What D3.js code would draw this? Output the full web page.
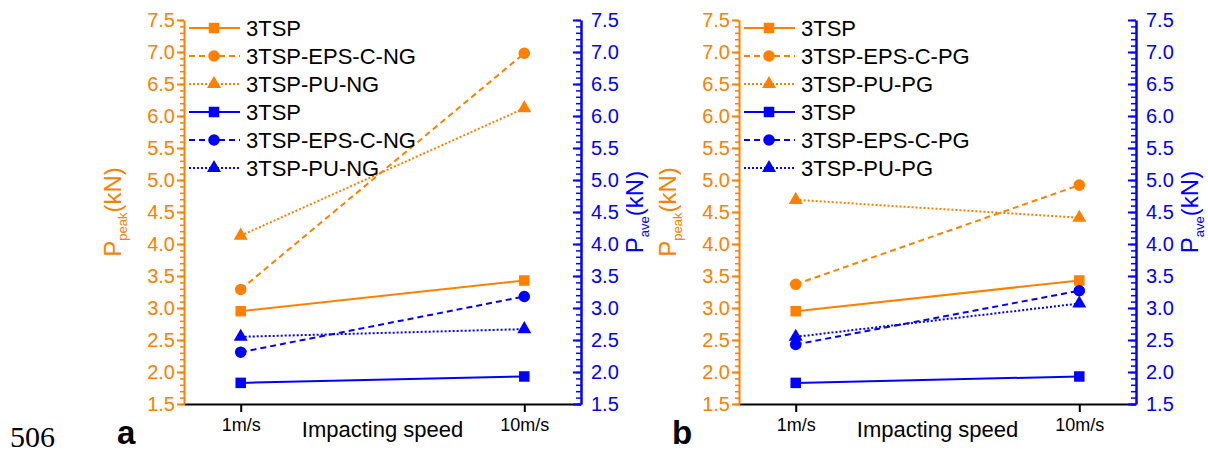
<!DOCTYPE html>
<html>
<head>
<meta charset="utf-8">
<script src="https://cdn.jsdelivr.net/npm/d3@7"></script>
<style>
  body { margin: 0; background: #fff; }
  svg { display: block; font-family: "Liberation Sans", Arial, sans-serif; }
</style>
</head>
<body>
<div id="container"></div>
<script>
// impact load of the 3TSP samples, two panels

const speeds = ["1m/s", "10m/s"]
const yTicks = [1.5, 2.0, 2.5, 3.0, 3.5, 4.0, 4.5, 5.0, 5.5, 6.0, 6.5, 7.0, 7.5]

const namesA = ["3TSP", "3TSP-EPS-C-NG", "3TSP-PU-NG"]
const peakA = [[2.95, 3.43], [3.29, 6.98], [4.13, 6.12]]
const aveA = [[1.83, 1.93], [2.31, 3.18], [2.55, 2.67]]

const namesB = ["3TSP", "3TSP-EPS-C-PG", "3TSP-PU-PG"]
const peakB = [[2.95, 3.43], [3.37, 4.92], [4.69, 4.41]]
const aveB = [[1.83, 1.93], [2.43, 3.27], [2.55, 3.07]]

const width = 1208,
    height = 452
const orange = "#FF8000",
    blue = "#0000FF"

const svg = d3.select("#container")
    .append("svg")
    .attr("width", width)
    .attr("height", height)

const styles = [
    { dash: null, symbol: d3.symbolSquare, size: 110 },
    { dash: "6,4", symbol: d3.symbolCircle, size: 105 },
    { dash: "2,2", symbol: d3.symbolTriangle, size: 85 },
]

function drawPanel(left, names, peak, ave, letter) {
    const right = left + 397
    const top = 20,
        bottom = 404

    const g = svg.append("g")

    const xScale = d3.scalePoint()
        .domain(speeds)
        .range([left, right])
        .padding(0.2)

    const yScale = d3.scaleLinear()
        .domain([1.5, 7.5])
        .range([bottom, top])

    // x axis
    const xAxis = d3.axisBottom(xScale).tickSizeInner(8).tickSizeOuter(0).tickPadding(6)
    const gx = g.append("g")
        .attr("transform", `translate(0,${bottom})`)
        .call(xAxis)
    gx.select(".domain").attr("stroke", "#000").attr("stroke-width", 2)
    gx.selectAll(".tick line").attr("stroke", "#000").attr("stroke-width", 2)
    gx.selectAll(".tick text").attr("font-size", 18).attr("fill", "#000")
        .attr("font-family", "Liberation Sans, Arial, sans-serif")

    g.append("text")
        .attr("x", (left + right) / 2)
        .attr("y", 437)
        .attr("text-anchor", "middle")
        .attr("font-size", 22)
        .text("Impacting speed")

    // left (peak) axis, orange
    const minor = d3.range(15, 76).map(d => d / 10)
    g.append("g")
        .attr("transform", `translate(${left},0)`)
        .call(d3.axisLeft(yScale).tickValues(minor).tickFormat("").tickSizeInner(4).tickSizeOuter(0))
        .call(a => a.selectAll("line").attr("stroke", orange).attr("stroke-width", 1.5))
        .call(a => a.select(".domain").remove())
    const gl = g.append("g")
        .attr("transform", `translate(${left},0)`)
        .call(d3.axisLeft(yScale).tickValues(yTicks).tickFormat(d3.format(".1f"))
            .tickSizeInner(7).tickSizeOuter(0).tickPadding(2))
    gl.select(".domain").attr("stroke", orange).attr("stroke-width", 2)
    gl.selectAll(".tick line").attr("stroke", orange).attr("stroke-width", 2)
    gl.selectAll(".tick text").attr("fill", orange).attr("font-size", 20)
        .attr("font-family", "Liberation Sans, Arial, sans-serif")

    // right (average) axis, blue, ticks pointing inward
    g.append("g")
        .attr("transform", `translate(${right},0)`)
        .call(d3.axisRight(yScale).tickValues(minor).tickFormat("").tickSizeInner(-5).tickSizeOuter(0))
        .call(a => a.selectAll("line").attr("stroke", blue).attr("stroke-width", 1.5))
        .call(a => a.select(".domain").remove())
    const gr = g.append("g")
        .attr("transform", `translate(${right},0)`)
        .call(d3.axisRight(yScale).tickValues(yTicks).tickFormat(d3.format(".1f"))
            .tickSizeInner(-8).tickSizeOuter(0).tickPadding(10))
    gr.select(".domain").attr("stroke", blue).attr("stroke-width", 2.5)
    gr.selectAll(".tick line").attr("stroke", blue).attr("stroke-width", 2)
    gr.selectAll(".tick text").attr("fill", blue).attr("font-size", 20)
        .attr("font-family", "Liberation Sans, Arial, sans-serif")

    // axis titles
    const yTitle = (x, color, sub) => {
        const t = g.append("text")
            .attr("transform", `translate(${x},212) rotate(-90)`)
            .attr("text-anchor", "middle")
            .attr("font-size", 24)
            .attr("fill", color)
        t.append("tspan").text("P")
        t.append("tspan").attr("font-size", 13).attr("dy", 6).text(sub)
        t.append("tspan").attr("dy", -6).text("(kN)")
    }
    yTitle(left - 63, orange, "peak")
    yTitle(right + 62, blue, "ave")

    // series
    const line = d3.line()
        .x((d, i) => xScale(speeds[i]))
        .y(d => yScale(d))

    const series = []
    peak.forEach((vals, i) => series.push({ vals, color: orange, style: styles[i], name: names[i] }))
    ave.forEach((vals, i) => series.push({ vals, color: blue, style: styles[i], name: names[i] }))

    series.forEach(s => {
        g.append("path")
            .attr("d", line(s.vals))
            .attr("fill", "none")
            .attr("stroke", s.color)
            .attr("stroke-width", 2)
            .attr("stroke-dasharray", s.style.dash)
        g.selectAll(null)
            .data(s.vals)
            .enter()
            .append("path")
            .attr("d", d3.symbol().type(s.style.symbol).size(s.style.size))
            .attr("transform", (d, i) => `translate(${xScale(speeds[i])},${yScale(d)})`)
            .attr("fill", s.color)
    })

    // legend
    const legend = g.append("g")
        .attr("transform", `translate(${left},0)`)
    series.forEach((s, i) => {
        const y = 28 + i * 28
        legend.append("line")
            .attr("x1", 5).attr("x2", 56)
            .attr("y1", y).attr("y2", y)
            .attr("stroke", s.color)
            .attr("stroke-width", 2)
            .attr("stroke-dasharray", s.style.dash)
        legend.append("path")
            .attr("d", d3.symbol().type(s.style.symbol).size(s.style.size))
            .attr("transform", `translate(30,${y})`)
            .attr("fill", s.color)
        legend.append("text")
            .attr("x", 62)
            .attr("y", y)
            .attr("dy", "0.36em")
            .attr("font-size", 22)
            .text(s.name)
    })

    g.append("text")
        .attr("x", left - 67)
        .attr("y", 444)
        .attr("font-size", 33)
        .attr("font-weight", "bold")
        .text(letter)
}

svg.append("text")
    .attr("x", 10)
    .attr("y", 447)
    .attr("font-family", "Liberation Serif, Times New Roman, serif")
    .attr("font-size", 30)
    .text("506")

drawPanel(184, namesA, peakA, aveA, "a")
drawPanel(739, namesB, peakB, aveB, "b")
</script>
</body>
</html>
